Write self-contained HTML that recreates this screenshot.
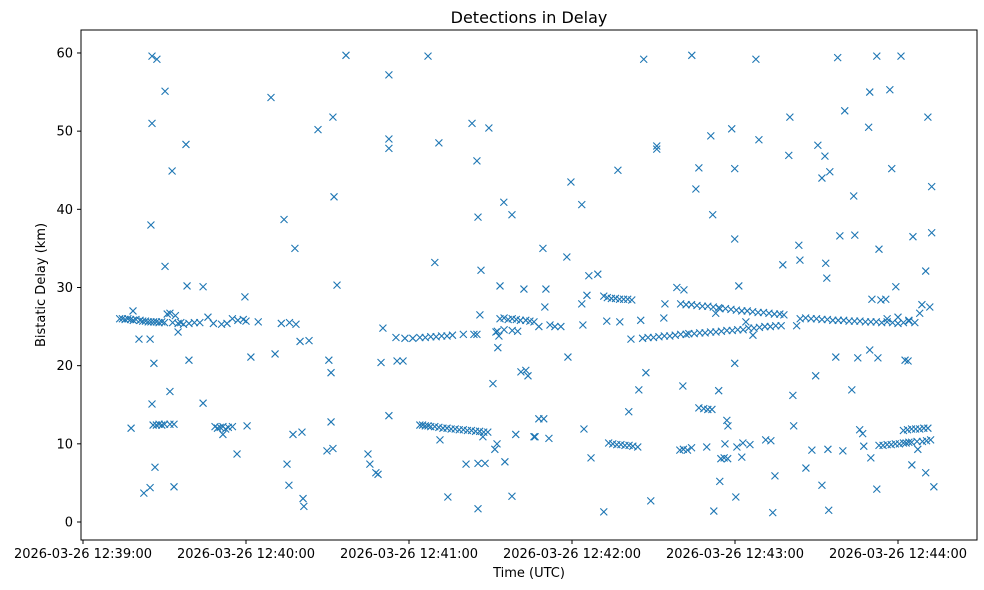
<!DOCTYPE html>
<html><head><meta charset="utf-8"><style>
body{margin:0;background:#fff;}
svg{display:block;font-family:"DejaVu Sans","Liberation Sans",sans-serif;}
</style></head><body>
<svg id="chart" width="984" height="590">
<rect width="984" height="590" fill="#fff"/>
<text x="529" y="23" text-anchor="middle" font-size="16">Detections in Delay</text>
<text x="529" y="577" text-anchor="middle" font-size="13">Time (UTC)</text>
<text transform="translate(45,285) rotate(-90)" text-anchor="middle" font-size="13">Bistatic Delay (km)</text>
<g id="ticks"></g>
<g id="marks"></g>
<rect x="81" y="30" width="896" height="510" fill="none" stroke="#000" stroke-width="1"/>
</svg>
<script>
const yTicks=[0,10,20,30,40,50,60];
const xTicks=[0,60,120,180,240,300];
const xTickLabels=["2026-03-26 12:39:00","2026-03-26 12:40:00","2026-03-26 12:41:00","2026-03-26 12:42:00","2026-03-26 12:43:00","2026-03-26 12:44:00"];
// seconds after 12:39:00
const detTime=[13.5,14.5,15.5,16.5,17.5,18.5,19.5,21,22,23,24,25,26,27,28,29,30,31,32,33,34,35,36,37,39,41,43,46,48,51,53,55,57,59,60,64.5,73,76,
17.7,18.4,20.6,22.4,24.7,24.7,25,25.4,25.4,25.4,26.1,26.5,27.2,25.8,27,28,29,30,32,33.5,30.2,30.2,32,32.8,33.5,35,37.9,38.3,39,44.2,44.2,
48.6,49.5,50.5,51.5,52.5,53.5,55,51.5,56.7,59.6,60.4,61.8,69.2,70.7,74,75.1,75.8,77.3,78,78.4,79.9,80.6,81,81.3,83.2,86.5,89.8,90.5,91.3,91.3,92,92,92.4,93.5,96.8,
104.9,105.6,107.8,108.6,109.7,110.4,112.6,112.6,112.6,112.6,115.2,115.6,117.8,118.5,121.4,
124,126,128,130,132,134,136,140,145,127,129.5,131,131.4,
124,125,126,127,128,129.5,131,132.5,134,135.5,137,138.5,140,141.5,143,144.5,146,147.5,149,
134.3,141,143.2,143.9,145,145.4,145.4,145.4,146.1,146.5,147.2,148,149.4,150.9,151.6,152,152.4,152.7,153.1,153.5,154.9,155.3,157.9,157.9,159.3,161.2,162.3,163,163.8,
153.5,155,156.5,158,159.5,161,163,164.5,166,152.5,155,158,160,
166,166.4,167.8,167.8,169.3,169.6,170,170.4,171.5,171.9,173.7,175.9,178.1,179.6,178.5,183.6,183.6,184,184.4,185.5,186.2,187,189.5,191.7,
191.7,193,194.5,196,197.5,199,200.5,202,192.8,193.5,195,196.5,198,199.5,201,196.9,197.6,200.9,201.7,202.4,204.2,204.6,205.3,206.4,207.2,
206,208,210,212,214,216,218,220,222,209,211.2,211.2,213.8,214.2,218.6,219.7,221,222.5,224,220.8,221.2,
223,225,227,229,231,233,235,237,239,241,243,220,222,224,226,228,230,232,234,
224.1,225.6,226.7,226.7,228.5,230,231.5,229.6,231.1,231.8,232.2,232.9,234,234.4,234.8,236,237.3,236.3,237,237.4,238.8,239.9,239.9,239.9,240.3,240.7,241.4,
234.5,236.5,238.5,240.5,242.5,244.5,246.5,248.5,250.5,252.5,254.5,256.5,258,245,247,249,251,253,255,257,
242.5,242.9,244,245.5,246.6,247.7,248.8,251.3,253.2,254.7,253.9,257.6,260.2,259.8,261.3,261.6,262.7,263.5,263.9,266.1,
264,266,268,270,272,274,276,278,280,282,284,286,288,290,292,294,296,298,300,302,296,300,304,
268.3,269.7,270.5,272,272,273.1,273.4,273.8,274.2,274.5,274.9,277.1,277.8,278.6,279.7,280.4,283,283.7,284.1,285.2,285.9,287,287.4,289.2,289.6,290,289.6,290.4,292.2,292.2,292.6,293,293.7,295.5,297,
293,294.5,296,297.5,299,300.5,302,303,304,297.7,299.2,301.1,302.6,303.7,
302,303.5,305,306.5,308,309.5,311,305,307,309,310.5,312,
305.1,305.5,304,306.2,307.3,308,308.8,310.2,310.2,311,311.7,312.4,312.4,313.2];
const detDelay=[26.0,26.0,25.9,26.0,25.9,25.8,25.9,25.8,25.7,25.7,25.6,25.6,25.6,25.6,25.5,25.6,25.5,26.6,26.7,25.5,26.4,25.4,25.5,25.3,25.4,25.5,25.5,26.2,25.4,25.3,25.4,26.0,25.8,25.9,25.7,25.6,25.4,25.5,
12.0,27.0,23.4,3.7,23.4,4.4,38.0,59.6,15.1,51.0,20.3,7.0,59.2,12.4,12.4,12.5,12.4,12.5,12.5,12.5,55.1,32.7,16.7,44.9,4.5,24.3,48.3,30.2,20.7,30.1,15.2,
12.2,12.0,12.1,12.2,11.9,12.1,12.2,11.2,8.7,28.8,12.3,21.1,54.3,21.5,38.7,7.4,4.7,11.2,35.0,25.3,23.1,11.5,3.0,2.0,23.2,50.2,9.1,20.7,19.1,12.8,51.8,9.4,41.6,30.3,59.7,
8.7,7.4,6.3,6.1,20.4,24.8,57.2,49.0,47.8,13.6,23.6,20.6,20.6,23.5,23.5,
23.6,23.6,23.7,23.7,23.8,23.8,23.9,24.0,24.0,59.6,33.2,48.5,10.5,
12.4,12.4,12.3,12.3,12.2,12.2,12.1,12.0,12.0,11.9,11.9,11.8,11.8,11.7,11.7,11.6,11.6,11.5,11.5,
3.2,7.4,51.0,24.0,46.2,7.5,1.7,39.0,26.5,32.2,10.9,7.5,50.4,17.7,9.3,24.3,10.0,22.3,23.8,30.2,40.9,7.7,39.3,3.3,11.2,19.2,29.8,19.4,18.7,
26.0,26.1,25.9,26.0,25.9,25.8,25.8,25.7,25.6,24.4,24.6,24.5,24.4,
10.9,10.9,25.0,13.2,35.0,13.2,27.5,29.8,10.7,25.2,25.0,25.0,33.9,43.5,21.1,27.9,40.6,25.2,11.9,29.0,31.5,8.2,31.7,1.3,
28.9,28.7,28.6,28.6,28.5,28.5,28.5,28.4,25.7,10.1,10.0,9.9,9.9,9.8,9.8,45.0,25.6,14.1,23.4,9.7,9.6,16.9,25.8,59.2,19.1,
23.5,23.6,23.6,23.7,23.8,23.8,23.9,24.0,24.0,2.7,48.1,47.7,26.1,27.9,30.0,9.2,9.3,9.2,9.5,17.4,29.7,
24.1,24.1,24.2,24.2,24.3,24.3,24.4,24.5,24.5,24.6,24.6,27.9,27.8,27.8,27.7,27.6,27.6,27.5,27.4,
59.7,42.6,45.3,14.6,14.5,14.4,14.4,9.6,49.4,39.3,1.4,26.7,16.8,5.2,8.1,8.2,8.1,10.0,13.0,12.3,50.3,45.2,36.2,20.3,3.2,9.6,30.2,
27.3,27.3,27.2,27.1,27.0,27.0,26.9,26.8,26.8,26.7,26.6,26.6,26.5,24.8,24.8,24.9,25.0,25.0,25.1,25.1,
8.3,10.1,25.6,9.9,23.9,59.2,48.9,10.5,10.4,5.9,1.2,32.9,51.8,46.9,16.2,12.3,25.1,35.4,33.5,6.9,
26.0,26.1,26.0,26.0,25.9,25.9,25.8,25.8,25.8,25.7,25.7,25.7,25.6,25.6,25.6,25.5,25.6,25.5,25.4,25.5,26.0,26.2,25.8,
9.2,18.7,48.2,4.7,44.0,46.8,33.1,31.2,9.3,1.5,44.8,21.1,59.4,36.6,9.1,52.6,16.9,41.7,36.7,21.0,11.8,11.3,9.7,50.5,55.0,8.2,22.0,28.5,59.6,4.2,21.0,34.9,28.4,28.5,55.3,
9.8,9.8,9.9,9.9,10.0,10.0,10.1,10.1,10.2,45.2,30.1,59.6,20.7,20.6,
11.7,11.8,11.9,11.9,11.9,12.0,12.0,10.2,10.3,10.3,10.4,10.5,
7.3,36.5,25.7,25.5,9.3,26.7,27.8,32.1,6.3,51.8,27.5,42.9,37.0,4.5];
const NS='http://www.w3.org/2000/svg';
function xs(t){return 83+t*163/60;}
function ys(v){return 522-v*7.817;}
const tg=document.getElementById('ticks');
yTicks.forEach(v=>{
 const y=ys(v);
 const l=document.createElementNS(NS,'line');
 l.setAttribute('x1',77);l.setAttribute('x2',81);l.setAttribute('y1',y);l.setAttribute('y2',y);l.setAttribute('stroke','#000');
 
 
 tg.appendChild(l);
 const t=document.createElementNS(NS,'text');
 t.setAttribute('x',73);t.setAttribute('y',y+4.5);t.setAttribute('text-anchor','end');t.setAttribute('font-size','13');
 t.textContent=v;
 
 
 tg.appendChild(t);
});
xTicks.forEach((s,i)=>{
 const x=xs(s);
 const l=document.createElementNS(NS,'line');
 l.setAttribute('x1',x);l.setAttribute('x2',x);l.setAttribute('y1',540);l.setAttribute('y2',544);l.setAttribute('stroke','#000');
 
 
 tg.appendChild(l);
 const t=document.createElementNS(NS,'text');
 t.setAttribute('x',x);t.setAttribute('y',558);t.setAttribute('text-anchor','middle');t.setAttribute('font-size','13');
 t.textContent=xTickLabels[i];
 
 
 tg.appendChild(t);
});
const mg=document.getElementById('marks');
for(let i=0;i<detTime.length;i++){
 const x=xs(detTime[i]),y=ys(detDelay[i]),r=3.5;
 const p=document.createElementNS(NS,'path');
 p.setAttribute('d',`M${x-r},${y-r}L${x+r},${y+r}M${x-r},${y+r}L${x+r},${y-r}`);
 p.setAttribute('stroke','#1f77b4');p.setAttribute('stroke-width','1.1');p.setAttribute('fill','none');
 
 
 mg.appendChild(p);
}
</script>
</body></html>
